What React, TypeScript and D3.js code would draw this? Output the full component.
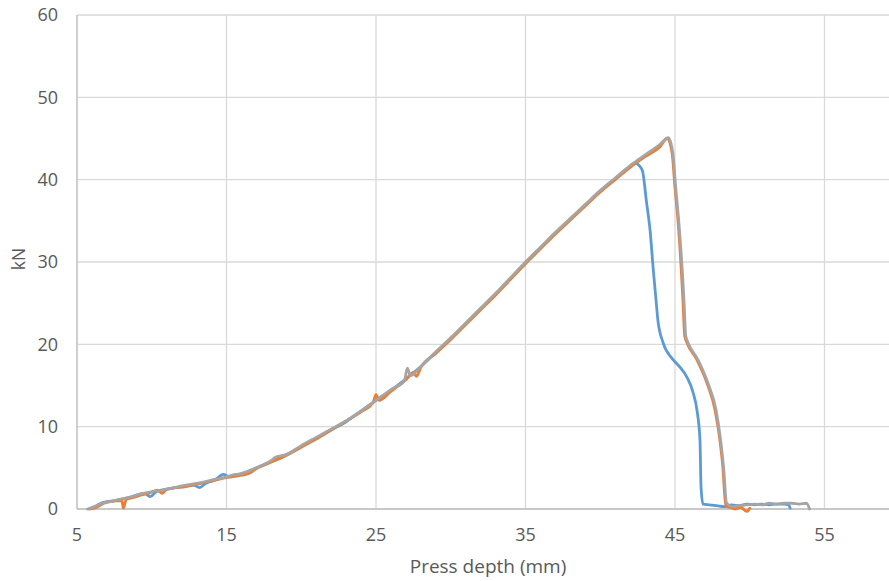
import React from "react";
import * as d3 from "d3";

const xTicks = [5, 15, 25, 35, 45, 55];
const yTicks = [0, 10, 20, 30, 40, 50, 60];

const blueX = [5.8, 6.2, 6.6, 7.0, 7.5, 8.0, 8.5, 9.0, 9.5, 9.9, 10.3, 11.0, 12.0, 12.8, 13.2, 13.6, 14.2, 14.8, 15.2, 16, 17, 18, 19, 20, 21, 22, 23, 24, 25, 26, 27, 28, 29, 30, 31, 32, 33, 34, 35, 36, 37, 38, 39, 40, 41, 41.8, 42.3, 42.8, 43.1, 43.33, 43.55, 43.73, 43.85, 44.2, 44.8, 45.3, 45.8, 46.2, 46.47, 46.67, 46.74, 46.87, 47.3, 47.8, 48.3, 48.8, 49.3, 49.8, 50.3, 50.8, 51.3, 51.8, 52.3, 52.6, 52.7];
const blueY = [0, 0.3, 0.7, 0.9, 1.0, 1.2, 1.4, 1.7, 1.9, 1.5, 2.1, 2.4, 2.7, 2.9, 2.6, 3.1, 3.5, 4.2, 3.9, 4.3, 5.0, 5.8, 6.6, 7.6, 8.6, 9.6, 10.6, 11.9, 13.2, 14.4, 15.8, 17.3, 19.0, 20.7, 22.5, 24.3, 26.1, 28.0, 29.9, 31.7, 33.5, 35.2, 36.9, 38.6, 40.1, 41.3, 42.0, 41.2, 37.2, 33.9, 29.0, 25.4, 23.0, 20.2, 18.3, 17.3, 16.0, 14.2, 12.0, 8.4, 2.7, 0.6, 0.5, 0.4, 0.3, 0.5, 0.4, 0.6, 0.5, 0.6, 0.5, 0.6, 0.6, 0.5, 0.1];

const orangeX = [5.9, 6.3, 6.8, 7.2, 7.6, 8.0, 8.1, 8.3, 8.8, 9.3, 9.8, 10.4, 10.7, 11.0, 11.6, 12.2, 13.0, 14.0, 15.0, 16.0, 16.6, 17, 18, 19, 20, 21, 22, 23, 24, 24.8, 25.0, 25.2, 26, 27, 27.5, 27.7, 28, 29, 30, 31, 32, 33, 34, 35, 36, 37, 38, 39, 40, 41, 42, 43, 44, 44.47, 44.8, 45.0, 45.2, 45.53, 45.65, 45.8, 46.47, 47.14, 47.68, 48.0, 48.2, 48.4, 48.7, 49.0, 49.4, 49.8, 50.0];
const orangeY = [0, 0.2, 0.7, 0.9, 1.0, 1.0, 0.1, 1.2, 1.4, 1.7, 1.9, 2.3, 1.9, 2.4, 2.6, 2.7, 3.0, 3.4, 3.8, 4.1, 4.4, 4.9, 5.7, 6.5, 7.5, 8.5, 9.6, 10.7, 11.8, 12.9, 13.9, 13.2, 14.3, 15.7, 16.6, 16.1, 17.2, 18.9, 20.6, 22.4, 24.2, 26.0, 27.9, 29.8, 31.6, 33.4, 35.1, 36.8, 38.5, 40.0, 41.5, 42.8, 44.0, 45.0, 43.3, 39.0, 35.0, 25.4, 21.0, 20.2, 18.1, 15.3, 12.0, 8.4, 5.1, 0.3, 0.2, 0.0, 0.2, -0.3, 0.1];

const grayX = [5.7, 6.2, 6.7, 7.2, 7.7, 8.2, 8.7, 9.2, 9.7, 10.3, 11, 12, 13, 14, 15, 15.6, 16, 17, 18, 18.3, 19, 20, 21, 22, 23, 24, 25, 26, 26.9, 27.1, 27.3, 28, 29, 30, 31, 32, 33, 34, 35, 36, 37, 38, 39, 40, 41, 42, 43, 44, 44.55, 44.85, 45.05, 45.25, 45.6, 45.72, 45.87, 46.54, 47.2, 47.75, 48.05, 48.25, 48.45, 48.8, 49.3, 49.8, 50.3, 50.8, 51.3, 51.8, 52.3, 52.8, 53.3, 53.8, 54.0];
const grayY = [0, 0.3, 0.7, 0.9, 1.1, 1.3, 1.5, 1.8, 2.0, 2.2, 2.4, 2.8, 3.1, 3.5, 3.9, 4.2, 4.3, 5.0, 5.9, 6.3, 6.6, 7.7, 8.7, 9.7, 10.7, 11.9, 13.2, 14.5, 15.6, 17.1, 16.2, 17.3, 19.1, 20.8, 22.6, 24.4, 26.2, 28.1, 30.0, 31.8, 33.6, 35.3, 37.0, 38.7, 40.2, 41.7, 43.0, 44.3, 45.1, 43.3, 39.0, 35.0, 25.4, 21.0, 20.2, 18.1, 15.3, 12.0, 8.4, 5.1, 0.7, 0.3, 0.4, 0.5, 0.6, 0.5, 0.7, 0.6, 0.7, 0.7, 0.6, 0.7, 0.0];

const series = [
  { name: "Blue", xs: blueX, ys: blueY, color: "#5B9BD5" },
  { name: "Orange", xs: orangeX, ys: orangeY, color: "#ED7D31" },
  { name: "Gray", xs: grayX, ys: grayY, color: "#A5A5A5" },
];

export default function App() {
  const W = 889;
  const H = 581;
  const left = 77;
  const top = 15;
  const bottom = 509;
  const x = d3.scaleLinear().domain([5, 60]).range([left, left + 55 * 14.95]);
  const y = d3.scaleLinear().domain([0, 60]).range([bottom, top]);
  const line = d3
    .line<[number, number]>()
    .x((d) => x(d[0]))
    .y((d) => y(d[1]))
    .curve(d3.curveMonotoneX);
  const font = "'Open Sans', sans-serif";
  return (
    <svg
      width={W}
      height={H}
      style={{ position: "absolute", left: 0, top: 0, background: "#fff" }}
    >
      <rect x={0} y={0} width={W} height={H} fill="#fff" />
      {yTicks.map((t) => (
        <line key={"gy" + t} x1={left} x2={W} y1={y(t)} y2={y(t)} stroke="#d9d9d9" strokeWidth={1.3} />
      ))}
      {xTicks.slice(1).map((t) => (
        <line key={"gx" + t} x1={x(t)} x2={x(t)} y1={top} y2={bottom} stroke="#d9d9d9" strokeWidth={1.3} />
      ))}
      <line x1={left} x2={left} y1={top} y2={bottom} stroke="#bfbfbf" strokeWidth={1.5} />
      <line x1={left} x2={W} y1={bottom} y2={bottom} stroke="#bfbfbf" strokeWidth={1.5} />
      {series.map((s) => (
        <path
          key={s.name}
          d={line(s.xs.map((v, i) => [v, s.ys[i]] as [number, number])) || ""}
          fill="none"
          stroke={s.color}
          strokeWidth={2.8}
          strokeLinejoin="round"
          strokeLinecap="round"
        />
      ))}
      {yTicks.map((t) => (
        <text key={"ty" + t} x={58} y={y(t)} dy="0.36em" textAnchor="end" fontFamily={font} fontSize={18} fill="#595959">
          {t}
        </text>
      ))}
      {xTicks.map((t) => (
        <text key={"tx" + t} x={x(t)} y={541} textAnchor="middle" fontFamily={font} fontSize={18} fill="#595959">
          {t}
        </text>
      ))}
      <text x={488} y={573} textAnchor="middle" fontFamily={font} fontSize={19} fill="#595959">
        Press depth (mm)
      </text>
      <text
        transform={`translate(24.5, 259) rotate(-90)`}
        textAnchor="middle"
        fontFamily={font}
        fontSize={17.5}
        fill="#595959"
      >
        kN
      </text>
    </svg>
  );
}
